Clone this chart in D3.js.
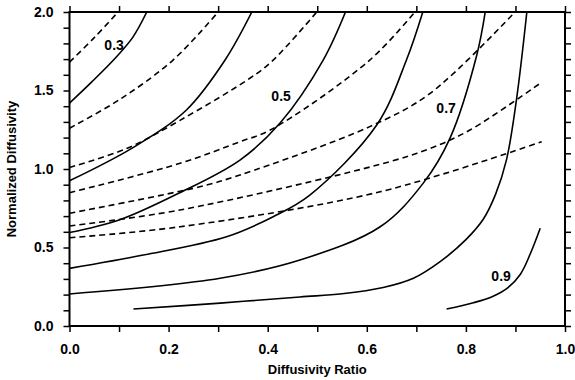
<!DOCTYPE html>
<html>
<head>
<meta charset="utf-8">
<script src="https://cdn.jsdelivr.net/npm/d3@7"></script>
<style>
  body { margin: 0; background: #fff; }
  text { font-family: "Liberation Sans", Arial, sans-serif; fill: #000; }
</style>
</head>
<body>
<div id="chart"></div>
<script>
// solid contours (x = diffusivity ratio, y = normalized diffusivity)
const SOLID_03 = [[0, 1.42], [0.045, 1.555], [0.095, 1.715], [0.128, 1.84], [0.156, 2.0]];
const SOLID_04 = [[0, 0.925], [0.129, 1.138], [0.236, 1.376], [0.314, 1.694], [0.368, 2.0]];
const SOLID_05 = [[0, 0.595], [0.10, 0.675], [0.22, 0.845], [0.344, 1.057], [0.425, 1.293], [0.512, 1.694], [0.557, 2.0]];
const SOLID_06 = [[0, 0.367], [0.149, 0.452], [0.317, 0.569], [0.411, 0.696], [0.485, 0.834], [0.62, 1.28], [0.68, 1.694], [0.713, 2.0]];
const SOLID_07 = [[0, 0.204], [0.304, 0.304], [0.465, 0.42], [0.627, 0.632], [0.714, 0.91], [0.768, 1.197], [0.822, 1.726], [0.839, 2.0]];
const SOLID_08 = [[0.129, 0.108], [0.304, 0.146], [0.465, 0.185], [0.55, 0.205], [0.633, 0.245], [0.694, 0.304], [0.748, 0.41], [0.80, 0.55], [0.835, 0.68], [0.86, 0.84], [0.882, 1.06], [0.902, 1.44], [0.923, 2.0]];
const SOLID_09 = [[0.761, 0.108], [0.815, 0.148], [0.855, 0.19], [0.885, 0.245], [0.91, 0.33], [0.93, 0.46], [0.95, 0.622]];

// dashed curves
const DASH_1 = [[0, 1.68], [0.051, 1.84], [0.098, 2.0]];
const DASH_2 = [[0, 1.26], [0.1, 1.44], [0.209, 1.694], [0.30, 2.0]];
const DASH_3 = [[0, 1.01], [0.115, 1.13], [0.223, 1.31], [0.364, 1.578], [0.41, 1.69], [0.499, 2.0]];
const DASH_4 = [[0, 0.849], [0.223, 1.036], [0.344, 1.174], [0.405, 1.248], [0.606, 1.694], [0.697, 2.0]];
const DASH_5 = [[0, 0.718], [0.263, 0.887], [0.344, 0.962], [0.606, 1.27], [0.727, 1.48], [0.899, 2.0]];
const DASH_6 = [[0, 0.637], [0.223, 0.739], [0.627, 1.03], [0.727, 1.13], [0.808, 1.248], [0.95, 1.546]];
const DASH_7 = [[0, 0.562], [0.223, 0.632], [0.627, 0.855], [0.953, 1.174]];

const SOLID_CURVES = [SOLID_03, SOLID_04, SOLID_05, SOLID_06, SOLID_07, SOLID_08, SOLID_09];
const DASHED_CURVES = [DASH_1, DASH_2, DASH_3, DASH_4, DASH_5, DASH_6, DASH_7];

// contour labels [x, y, text]
const LABELS = [[0.090, 1.79, '0.3'], [0.427, 1.465, '0.5'], [0.760, 1.39, '0.7'], [0.871, 0.318, '0.9']];

const X_TICKS = [0, 0.2, 0.4, 0.6, 0.8, 1.0];
const Y_TICKS = [0, 0.5, 1.0, 1.5, 2.0];

// set the dimensions and margins of the graph
var margin = {top: 12, right: 10, bottom: 54, left: 69.5},
    width  = 575 - margin.left - margin.right,
    height = 380 - margin.top - margin.bottom;

var svg = d3.select("#chart")
            .append("svg")
            .attr("width", 575)
            .attr("height", 380)
            .append("g")
            .attr("transform", "translate(" + margin.left + "," + margin.top + ")");

var x = d3.scaleLinear().domain([0, 1]).range([0, width]);
var y = d3.scaleLinear().domain([0, 2]).range([height, 0]);

svg.append("clipPath").attr("id", "clip")
   .append("rect").attr("width", width).attr("height", height);

var line = d3.line()
             .x(d => x(d[0]))
             .y(d => y(d[1]))
             .curve(d3.curveCatmullRom.alpha(0.5));

var plot = svg.append("g").attr("clip-path", "url(#clip)");

plot.selectAll(".dashed")
    .data(DASHED_CURVES)
    .enter()
    .append("path")
    .attr("class", "dashed")
    .attr("d", line)
    .attr("stroke", "#000")
    .style("stroke-width", 1.6)
    .style("stroke-dasharray", "6,4")
    .style("fill", "none");

plot.selectAll(".solid")
    .data(SOLID_CURVES)
    .enter()
    .append("path")
    .attr("class", "solid")
    .attr("d", line)
    .attr("stroke", "#000")
    .style("stroke-width", 1.6)
    .style("fill", "none");

svg.selectAll(".clabel")
   .data(LABELS)
   .enter()
   .append("text")
   .attr("class", "clabel")
   .attr("x", d => x(d[0]))
   .attr("y", d => y(d[1]))
   .attr("text-anchor", "middle")
   .attr("dy", "0.35em")
   .style("font-size", "14px")
   .style("font-weight", "bold")
   .text(d => d[2]);

// axes, ticks every 0.1 on all four sides, labels on left and bottom
var minorX = d3.range(0, 11).map(i => i / 10);
var minorY = d3.range(0, 21).map(i => i / 10);

function styleAxis(g) {
  g.select(".domain").remove();
  g.selectAll(".tick line").attr("stroke", "#000").attr("stroke-width", 1.5);
  g.selectAll(".tick text")
   .style("font-size", "14px")
   .style("font-weight", "bold")
   .style("font-family", "'Liberation Sans', Arial, sans-serif");
}

svg.append("g")
   .attr("transform", "translate(0," + height + ")")
   .call(d3.axisBottom(x).tickValues(minorX).tickSize(6).tickPadding(12)
         .tickFormat(d => X_TICKS.some(t => Math.abs(t - d) < 1e-9) ? d3.format(".1f")(d) : ""))
   .call(styleAxis);

svg.append("g")
   .call(d3.axisTop(x).tickValues(minorX).tickSize(6).tickFormat(""))
   .call(styleAxis);

svg.append("g")
   .call(d3.axisLeft(y).tickValues(minorY).tickSize(6).tickPadding(10)
         .tickFormat(d => Y_TICKS.some(t => Math.abs(t - d) < 1e-9) ? d3.format(".1f")(d) : ""))
   .call(styleAxis);

svg.append("g")
   .attr("transform", "translate(" + width + ",0)")
   .call(d3.axisRight(y).tickValues(minorY).tickSize(6).tickFormat(""))
   .call(styleAxis);

// frame
svg.append("rect")
   .attr("width", width)
   .attr("height", height)
   .attr("fill", "none")
   .attr("stroke", "#000")
   .attr("stroke-width", 2);

// axis titles
svg.append("text")
   .attr("x", width / 2)
   .attr("y", height + 48)
   .attr("text-anchor", "middle")
   .style("font-size", "13px")
   .style("font-weight", "bold")
   .text("Diffusivity Ratio");

svg.append("text")
   .attr("transform", "translate(" + (-54) + "," + (height / 2) + ") rotate(-90)")
   .attr("text-anchor", "middle")
   .style("font-size", "13px")
   .style("font-weight", "bold")
   .text("Normalized Diffusivity");
</script>
</body>
</html>
